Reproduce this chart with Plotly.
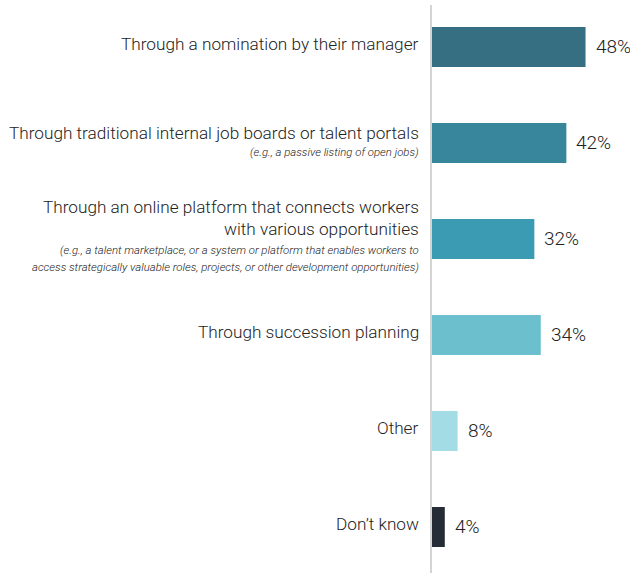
import plotly.graph_objects as go

categories = [
    "Through a nomination by their manager",
    "Through traditional internal job boards or talent portals",
    "Through an online platform that connects workers with various opportunities",
    "Through succession planning",
    "Other",
    "Don’t know",
]
values = [48, 42, 32, 34, 8, 4]
value_labels = ["48%", "42%", "32%", "34%", "8%", "4%"]
main_lines = [
    ["Through a nomination by their manager"],
    ["Through traditional internal job boards or talent portals"],
    ["Through an online platform that connects workers", "with various opportunities"],
    ["Through succession planning"],
    ["Other"],
    ["Don’t know"],
]
sub_lines = [
    [],
    ["(e.g., a passive listing of open jobs)"],
    ["(e.g., a talent marketplace, or a system or platform that enables workers to",
     "access strategically valuable roles, projects, or other development opportunities)"],
    [],
    [],
    [],
]
colors = ["#366f82", "#38869b", "#3a9bb3", "#6cc0cd", "#a3dce4", "#262c36"]

FONT = "Roboto, Liberation Sans, sans-serif"
TXT = "#222222"

fig = go.Figure(go.Bar(
    y=categories, x=values, orientation="h",
    marker=dict(color=colors, line=dict(width=0)),
    width=0.417, hoverinfo="skip",
))

# label line offsets (px relative to bar centre, positive = up)
offsets = {
    0: ([3], []),
    1: ([10], [-9]),
    2: ([32, 10], [-11, -28]),
    3: ([3], []),
    4: ([3], []),
    5: ([3], []),
}

ann = []
for i, cat in enumerate(categories):
    mo, so = offsets[i]
    for line, off in zip(main_lines[i], mo):
        ann.append(dict(x=0, xref="paper", y=cat, yref="y", text=line,
                        xanchor="right", yanchor="middle", xshift=-11, yshift=off,
                        showarrow=False,
                        font=dict(family=FONT, size=17.2, color=TXT, weight=300)))
    for line, off in zip(sub_lines[i], so):
        ann.append(dict(x=0, xref="paper", y=cat, yref="y", text=line,
                        xanchor="right", yanchor="middle", xshift=-11, yshift=off,
                        showarrow=False,
                        font=dict(family=FONT, size=11.4, color=TXT, style="italic", weight=300)))
    ann.append(dict(x=values[i], xref="x", y=cat, yref="y", text=value_labels[i],
                    xanchor="left", yanchor="middle", xshift=8, yshift=1,
                    showarrow=False,
                    font=dict(family=FONT, size=19, color=TXT, weight=300)))

fig.update_layout(
    width=630, height=573,
    margin=dict(l=432, r=0, t=5, b=0),
    paper_bgcolor="white", plot_bgcolor="white",
    showlegend=False,
    annotations=ann,
    xaxis=dict(range=[0, 61.9], visible=False, fixedrange=True),
    yaxis=dict(type="category", range=[5.479, -0.4375], showticklabels=False,
               showgrid=False, zeroline=False, showline=True, linecolor="#d4d4d4",
               linewidth=1.5, ticks="", fixedrange=True),
)

fig.write_html("out.html", config={"displayModeBar": False},
               post_script="document.body.style.margin='0';")
